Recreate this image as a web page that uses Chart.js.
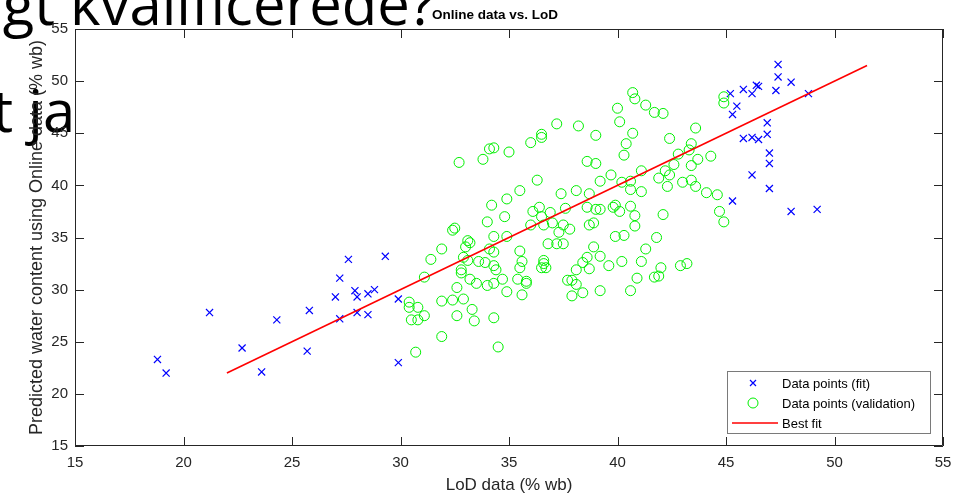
<!DOCTYPE html>
<html>
<head>
<meta charset="utf-8">
<script src="https://cdn.jsdelivr.net/npm/chart.js@4.4.1/dist/chart.umd.min.js"></script>
<style>
body { margin: 0; background: #fff; }
canvas { display: block; }
</style>
</head>
<body>
<canvas id="grafico" width="966" height="497"></canvas>
<script>
// texto do slide que aparece por tras da figura
const slideLines = ['gt kvalificerede?', 't ja'];

const chartTitle = 'Online data vs. LoD';
const xTitle = 'LoD data (% wb)';
const yTitle = 'Predicted water content using Online data (% wb)';
const axisTicks = [15, 20, 25, 30, 35, 40, 45, 50, 55];

// Data points (fit)
const fitX = [18.8, 19.2, 21.2, 22.7, 23.6, 24.3, 25.7, 25.8, 27.0, 27.2,
    27.6, 27.2, 27.9, 28.0, 28.0, 28.5, 28.5, 28.8, 29.3, 29.9,
    29.9, 47.4, 47.4, 48.0, 47.3, 48.8, 45.2, 45.8, 46.2, 46.4,
    46.5, 45.5, 45.3, 46.9, 46.9, 45.8, 46.2, 46.5, 47.0, 47.0,
    46.2, 47.0, 45.3, 48.0, 49.2];
const fitY = [23.3, 22.0, 27.8, 24.4, 22.1, 27.1, 24.1, 28.0, 29.3, 31.1,
    32.9, 27.2, 29.9, 29.3, 27.8, 29.6, 27.6, 30.0, 33.2, 29.1,
    23.0, 51.6, 50.4, 49.9, 49.1, 48.8, 48.8, 49.2, 48.8, 49.6,
    49.5, 47.6, 46.8, 46.0, 44.9, 44.5, 44.6, 44.4, 43.1, 42.1,
    41.0, 39.7, 38.5, 37.5, 37.7];

// Data points (validation)
const valX = [32.7, 33.8, 34.1, 34.3, 35.0, 36.0, 36.5, 36.5, 37.2, 38.2,
    36.3, 35.5, 34.9, 34.2, 37.4, 38.1, 36.4, 36.1, 36.9, 37.6,
    34.8, 34.0, 40.7, 40.8, 41.3, 41.7, 42.1, 40.0, 40.1, 39.0,
    40.7, 40.4, 40.3, 42.4, 43.6, 44.9, 44.9, 38.6, 39.0, 43.4,
    43.3, 42.8, 43.7, 44.3, 42.6, 43.4, 41.1, 39.7, 39.2, 40.2,
    40.6, 40.6, 41.1, 41.9, 42.2, 42.4, 42.3, 43.0, 43.4, 43.6,
    44.1, 44.6, 38.7, 38.6, 39.0, 39.2, 39.8, 39.9, 40.1, 40.6,
    40.8, 42.1, 44.7, 44.9, 36.5, 36.0, 36.6, 37.0, 37.5, 37.8,
    37.3, 36.8, 37.2, 37.5, 32.4, 32.5, 31.9, 31.4, 31.1, 33.1,
    33.2, 33.0, 32.9, 33.1, 33.6, 32.8, 32.8, 33.2, 33.5, 33.9,
    34.1, 34.3, 34.3, 34.9, 34.3, 34.4, 34.7, 34.3, 34.0, 34.9,
    35.5, 35.6, 35.5, 35.4, 35.8, 35.8, 35.6, 36.5, 36.6, 36.7,
    36.6, 37.7, 37.9, 38.1, 37.9, 38.1, 30.4, 30.4, 30.8, 31.1,
    30.5, 30.8, 31.9, 32.4, 32.9, 32.6, 33.3, 33.4, 32.6, 34.3,
    31.9, 34.5, 30.7, 40.8, 38.7, 38.9, 39.9, 40.3, 41.8, 41.3,
    38.9, 38.6, 39.2, 38.4, 38.7, 39.6, 40.2, 41.1, 42.0, 42.9,
    43.2, 40.9, 41.7, 41.9, 39.2, 40.6, 38.4];
const valY = [42.2, 42.5, 43.5, 43.6, 43.2, 44.1, 44.6, 44.9, 45.9, 45.7,
    40.5, 39.5, 38.7, 38.1, 39.2, 39.5, 37.9, 37.5, 37.4, 37.8,
    37.0, 36.5, 48.9, 48.3, 47.7, 47.0, 46.9, 47.4, 46.1, 44.8,
    45.0, 44.0, 42.9, 44.5, 45.5, 48.5, 47.9, 42.3, 42.1, 44.0,
    43.4, 43.0, 42.5, 42.8, 42.0, 41.9, 41.4, 41.0, 40.4, 40.3,
    40.4, 39.6, 39.4, 40.7, 41.4, 41.0, 39.9, 40.3, 40.5, 39.9,
    39.3, 39.1, 39.2, 37.9, 37.7, 37.7, 37.9, 38.1, 37.5, 38.0,
    37.1, 37.2, 37.5, 36.5, 37.0, 36.2, 36.2, 36.4, 36.2, 35.8,
    35.5, 34.4, 34.4, 34.4, 35.7, 35.9, 33.9, 32.9, 31.2, 34.7,
    34.5, 34.1, 33.1, 32.8, 32.7, 31.9, 31.6, 31.0, 30.6, 32.6,
    33.9, 33.6, 35.1, 35.1, 32.3, 31.9, 31.0, 30.6, 30.4, 29.8,
    33.7, 32.7, 32.1, 31.0, 30.8, 30.6, 29.5, 32.1, 32.5, 32.1,
    32.8, 30.9, 30.9, 30.5, 29.4, 31.9, 28.8, 28.3, 28.3, 27.5,
    27.1, 27.1, 28.9, 29.0, 29.1, 30.2, 28.1, 27.0, 27.5, 27.3,
    25.5, 24.5, 24.0, 36.1, 36.2, 36.4, 35.1, 35.2, 35.0, 33.9,
    34.1, 33.1, 33.2, 32.6, 32.0, 32.3, 32.7, 32.7, 32.1, 32.3,
    32.5, 31.1, 31.2, 31.3, 29.9, 29.9, 29.7];

// Best fit
const lineX = [22.0, 51.5];
const lineY = [22.0, 51.5];

const fonte = '"Liberation Sans", Arial, sans-serif';
const corEixo = '#262626';

function pares(xs, ys) {
    return xs.map((v, i) => ({x: v, y: ys[i]}));
}

const fundo = {
    id: 'fundo',
    beforeDraw(chart) {
        const {ctx, chartArea: a} = chart;
        ctx.save();
        ctx.fillStyle = '#fff';
        ctx.fillRect(0, 0, chart.width, chart.height);
        ctx.fillStyle = '#000';
        ctx.font = '58px "Open Sans"';
        ctx.textBaseline = 'alphabetic';
        ctx.fillText(slideLines[0], 70 - ctx.measureText('gt ').width, 25);
        ctx.fillText(slideLines[1], 43 - ctx.measureText('t j').width, 132);
        // fundo branco dos eixos
        ctx.fillStyle = '#fff';
        ctx.fillRect(a.left, a.top, a.right - a.left, a.bottom - a.top);
        ctx.restore();
    }
};

const caixa = {
    id: 'caixa',
    afterDraw(chart) {
        const {ctx, chartArea: a, scales: {x, y}} = chart;
        ctx.save();
        ctx.strokeStyle = corEixo;
        ctx.lineWidth = 1;
        ctx.beginPath();
        ctx.rect(a.left + 0.5, a.top + 0.5, a.right - a.left - 1, a.bottom - a.top - 1);
        axisTicks.forEach(v => {
            const px = Math.round(x.getPixelForValue(v)) + 0.5;
            ctx.moveTo(px, a.bottom); ctx.lineTo(px, a.bottom - 9);
            ctx.moveTo(px, a.top); ctx.lineTo(px, a.top + 9);
            const py = Math.round(y.getPixelForValue(v)) + 0.5;
            ctx.moveTo(a.left, py); ctx.lineTo(a.left + 9, py);
            ctx.moveTo(a.right, py); ctx.lineTo(a.right - 9, py);
        });
        ctx.stroke();

        // titulo
        ctx.fillStyle = '#000';
        ctx.font = 'bold 13.5px ' + fonte;
        ctx.textAlign = 'center';
        ctx.textBaseline = 'middle';
        ctx.fillText(chartTitle, 495, 15);

        // legenda
        const lx = a.right - 216, ly = a.bottom - 75;
        ctx.fillStyle = '#fff';
        ctx.fillRect(lx, ly, 203, 62);
        ctx.strokeStyle = '#7a7a7a';
        ctx.strokeRect(lx + 0.5, ly + 0.5, 203, 62);
        ctx.font = '13px ' + fonte;
        ctx.textAlign = 'left';
        ctx.fillStyle = '#000';
        const ds = chart.data.datasets;
        const rows = [ly + 12, ly + 32, ly + 52];
        // x azul
        ctx.strokeStyle = ds[0].borderColor;
        ctx.lineWidth = 1.2;
        ctx.beginPath();
        ctx.moveTo(lx + 23, rows[0] - 3); ctx.lineTo(lx + 29, rows[0] + 3);
        ctx.moveTo(lx + 29, rows[0] - 3); ctx.lineTo(lx + 23, rows[0] + 3);
        ctx.stroke();
        // circulo verde
        ctx.strokeStyle = ds[1].borderColor;
        ctx.lineWidth = 1;
        ctx.beginPath();
        ctx.arc(lx + 26, rows[1], 5, 0, Math.PI * 2);
        ctx.stroke();
        // linha vermelha
        ctx.strokeStyle = ds[2].borderColor;
        ctx.lineWidth = 1.5;
        ctx.beginPath();
        ctx.moveTo(lx + 5, rows[2]); ctx.lineTo(lx + 51, rows[2]);
        ctx.stroke();
        ds.forEach((d, i) => ctx.fillText(d.label, lx + 55, rows[i] + 1));
        ctx.restore();
    }
};

function drawChart() {
    const ctx = document.getElementById('grafico').getContext('2d');
    const data = {
        datasets: [{
            label: 'Data points (fit)',
            data: pares(fitX, fitY),
            pointStyle: 'crossRot',
            pointRadius: 5,
            borderColor: '#0000ff',
            borderWidth: 1.2,
            order: 3
        }, {
            label: 'Data points (validation)',
            data: pares(valX, valY),
            pointStyle: 'circle',
            pointRadius: 5,
            borderColor: '#00f000',
            backgroundColor: 'rgba(0,0,0,0)',
            borderWidth: 1,
            order: 2
        }, {
            label: 'Best fit',
            type: 'line',
            data: pares(lineX, lineY),
            borderColor: '#ff0000',
            borderWidth: 1.6,
            pointRadius: 0,
            fill: false,
            order: 1
        }]
    };
    const config = {
        type: 'scatter',
        data: data,
        plugins: [fundo, caixa],
        options: {
            responsive: false,
            animation: false,
            layout: {
                padding: {left: 0, right: 23, top: 29, bottom: 0}
            },
            plugins: {
                legend: false,
                tooltip: false,
                title: false
            },
            scales: {
                x: {
                    type: 'linear',
                    min: 15,
                    max: 55,
                    afterBuildTicks: s => { s.ticks = axisTicks.map(v => ({value: v})); },
                    afterFit: s => { s.height = 51; },
                    grid: {display: false, drawTicks: false},
                    border: {display: false},
                    ticks: {color: corEixo, padding: 8, font: {family: fonte, size: 15}},
                    title: {
                        display: true,
                        text: xTitle,
                        color: corEixo,
                        font: {family: fonte, size: 17},
                        padding: {top: 0, bottom: 1}
                    }
                },
                y: {
                    type: 'linear',
                    min: 15,
                    max: 55,
                    afterBuildTicks: s => { s.ticks = axisTicks.map(v => ({value: v})); },
                    afterFit: s => { s.width = 75; },
                    grid: {display: false, drawTicks: false},
                    border: {display: false},
                    ticks: {color: corEixo, padding: 7, font: {family: fonte, size: 15}},
                    title: {
                        display: true,
                        text: yTitle,
                        color: corEixo,
                        font: {family: fonte, size: 18},
                        padding: {top: 26, bottom: 0}
                    }
                }
            }
        }
    };
    new Chart(ctx, config);
}

drawChart();
</script>
</body>
</html>
